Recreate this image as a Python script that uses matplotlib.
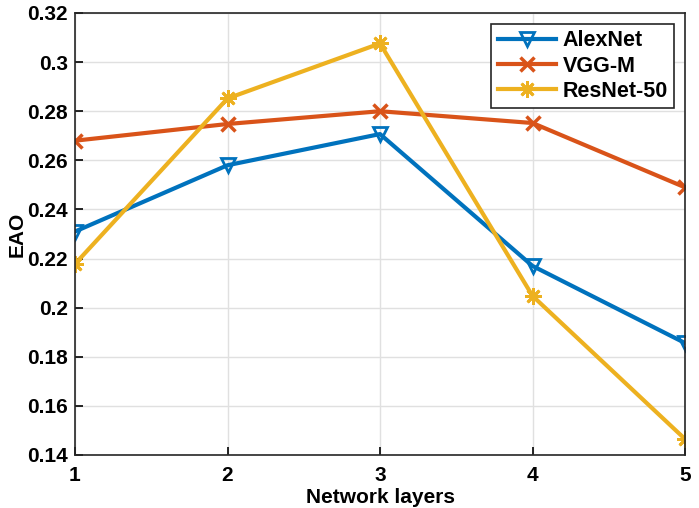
import matplotlib.pyplot as plt
import numpy as np

plt.rcParams['font.family'] = ['Liberation Sans', 'DejaVu Sans']
plt.rcParams['font.weight'] = 'bold'

layers = [1, 2, 3, 4, 5]
alexnet = [0.231, 0.258, 0.2707, 0.217, 0.1856]
vggm = [0.268, 0.2748, 0.280, 0.2752, 0.249]
resnet50 = [0.2178, 0.2852, 0.3076, 0.2048, 0.1465]
yticks = [0.14, 0.16, 0.18, 0.2, 0.22, 0.24, 0.26, 0.28, 0.3, 0.32]
ylabels = ['0.14', '0.16', '0.18', '0.2', '0.22', '0.24', '0.26', '0.28', '0.3', '0.32']

fig = plt.figure(figsize=(6.99, 5.08), dpi=100)
ax = fig.add_axes([75 / 699, 1 - 455 / 508, 610 / 699, 442 / 508])

ax.plot(layers, alexnet, color='#0072BD', lw=3, marker='v', ms=10, mew=2,
        mfc='none', label='AlexNet')
ax.plot(layers, vggm, color='#D95319', lw=3, marker='x', ms=10, mew=2.5,
        label='VGG-M')
ax.plot(layers, resnet50, color='#EDB120', lw=3, marker=(8, 2, 0), ms=12, mew=2,
        label='ResNet-50')

ax.set_xlim(1, 5)
ax.set_ylim(0.14, 0.32)
ax.set_xticks(layers)
ax.set_yticks(yticks)
ax.set_yticklabels(ylabels)
ax.tick_params(direction='in', labelsize=15, width=1.2, length=6)
ax.tick_params(axis='y', pad=5)
ax.tick_params(axis='x', pad=8)
ax.grid(True, color='#e0e0e0', lw=1)
for s in ax.spines.values():
    s.set_linewidth(1.2)
    s.set_color('#262626')

ax.set_xlabel('Network layers', fontsize=15, fontweight='bold', labelpad=2)
ax.set_ylabel('EAO', fontsize=15, fontweight='bold')
ax.yaxis.set_label_coords(-0.08, 0.5)

leg = ax.legend(loc='upper right', fontsize=15.5, fancybox=False, framealpha=1,
                edgecolor='#262626', handlelength=2.7, borderpad=0.3,
                labelspacing=0.2, handletextpad=0.3, borderaxespad=0.5)
leg.get_frame().set_linewidth(1.2)

fig.savefig('out.png', dpi=100)
